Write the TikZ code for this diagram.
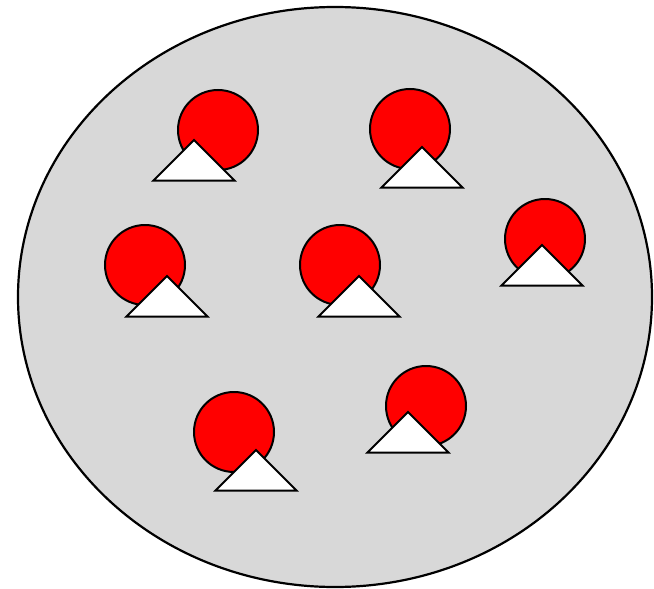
\documentclass[tikz,border=0pt]{standalone}
\definecolor{disc}{RGB}{216,216,216}
\definecolor{ballred}{RGB}{255,0,0}
\tikzset{
  dish/.style={draw=black, fill=disc, line width=2.2pt},
  ball/.style={draw=black, fill=ballred, line width=2pt},
  cone/.style={draw=black, fill=white, line width=2pt, line join=miter}
}
\begin{document}
\begin{tikzpicture}[x=1pt,y=-1pt]
\useasboundingbox (0,0) rectangle (654,589);
\draw[dish] (335,297) ellipse [x radius=317, y radius=290];
% circle centre / apex of triangle
\foreach \cx/\cy/\ax/\ay in {218/130/194/140, 410/129/422/147, 145/265/167/276,
  340/265/359/276, 545/239/542/245, 234/432/256/450, 426/406/408/412}{
  \draw[ball] (\cx,\cy) circle [radius=40];
  \draw[cone] (\ax,\ay) -- ++(40.5,40.5) -- ++(-81,0) -- cycle;
}
\end{tikzpicture}
\end{document}
